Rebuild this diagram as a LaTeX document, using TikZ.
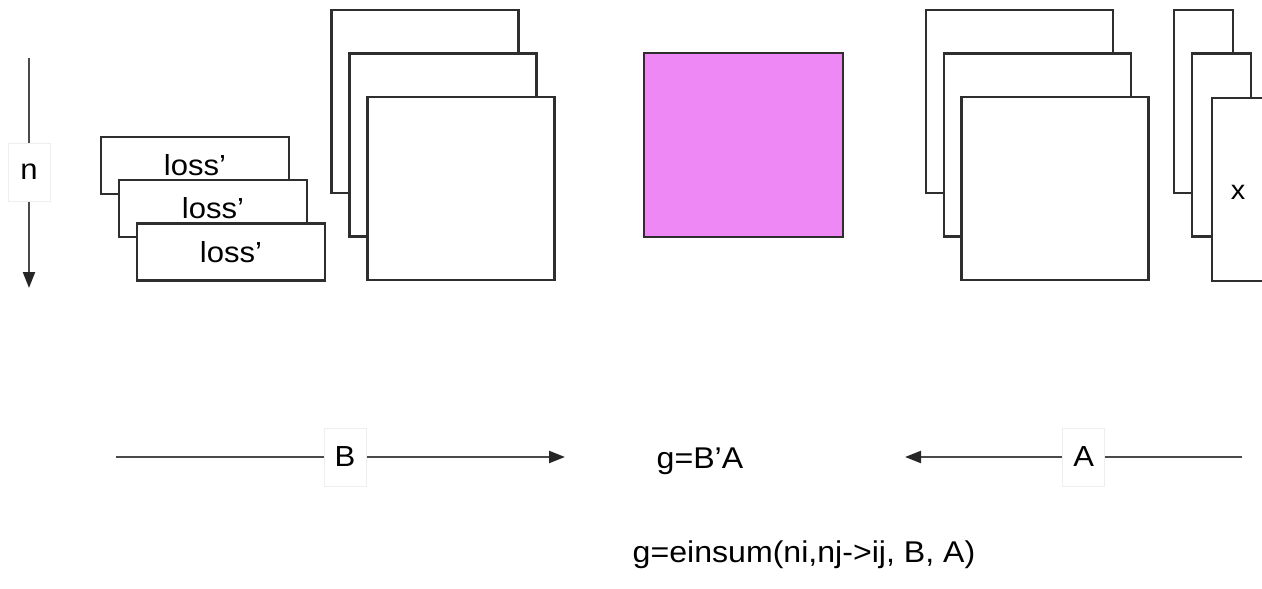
\documentclass[tikz,border=0pt]{standalone}
\usepackage{fontspec}
\setmainfont{Liberation Sans}[FakeStretch=1.07]
\usetikzlibrary{arrows.meta}

\definecolor{edge}{HTML}{2E2E2E}
\definecolor{flow}{HTML}{4A4A4A}
\definecolor{grad}{RGB}{238,136,245}
\definecolor{tagedge}{HTML}{EEEEEE}

\tikzset{
  card/.style={draw=edge, fill=white, line width=2.2pt, rectangle, inner sep=0pt},
  lossbox/.style={card, minimum width=188pt, minimum height=57pt,
    font=\fontsize{29}{34}\selectfont},
  sheet/.style={card, minimum width=187pt, minimum height=183pt},
  slim/.style={card, minimum width=59pt, minimum height=183pt},
  tag/.style={fill=white, draw=tagedge, line width=0.6pt, minimum width=42pt,
    minimum height=58pt, inner sep=0pt, font=\fontsize{29}{34}\selectfont},
  flowline/.style={draw=flow, line width=2.2pt,
    -{Triangle[length=16pt,width=12pt,color=black!85]}},
  plain/.style={inner sep=0pt, font=\fontsize{30}{34}\selectfont},
}

\begin{document}
\begin{tikzpicture}[x=1pt, y=-1pt]
  \useasboundingbox (0,0) rectangle (1262,589);
  \clip (0,0) rectangle (1262,589);

  % batch axis
  \coordinate (ntop) at (29,58);
  \coordinate (nbot) at (29,288);
  \draw[flowline] (ntop) -- node[tag, pos=0.495] (nlab) {n} (nbot);

  % stack of loss gradients
  \node[lossbox] (loss1) at (195,165.5) {loss’};
  \node[lossbox] (loss2) at (213,208.5) {loss’};
  \node[lossbox] (loss3) at (231,252)   {loss’};

  % stack of backprop matrices B
  \node[sheet] (b1) at (425,101.5) {};
  \node[sheet] (b2) at (443,145)   {};
  \node[sheet] (b3) at (461,188.5) {};

  % result g
  \node[card, fill=grad, minimum width=199pt, minimum height=184pt] (g) at (743.5,145) {};

  % stack of activation matrices A
  \node[sheet] (a1) at (1019.5,101.5) {};
  \node[sheet] (a2) at (1037.5,145)   {};
  \node[sheet] (a3) at (1055,188.5)   {};

  % stack of inputs x
  \node[slim] (x1) at (1203.5,101.5) {};
  \node[slim] (x2) at (1221.5,145)   {};
  \node[card, minimum width=90pt, minimum height=183pt, anchor=north west] (x3) at (1211,97) {};
  \node[plain, font=\fontsize{27}{30}\selectfont] (xlab) at (1238,192) {x};

  % flows into g
  \coordinate (bstart) at (116,457);
  \coordinate (bend)   at (565,457);
  \draw[flowline] (bstart) -- node[tag, pos=0.51] (blab) {B} (bend);

  \coordinate (astart) at (1242,457);
  \coordinate (aend)   at (905,457);
  \draw[flowline] (astart) -- node[tag, pos=0.47] (alab) {A} (aend);

  \node[plain, anchor=base] (prod) at (700,468) {g=B’A};
  \node[plain, anchor=base] (eins) at (804,562) {g=einsum(ni,nj->ij, B, A)};
\end{tikzpicture}
\end{document}
